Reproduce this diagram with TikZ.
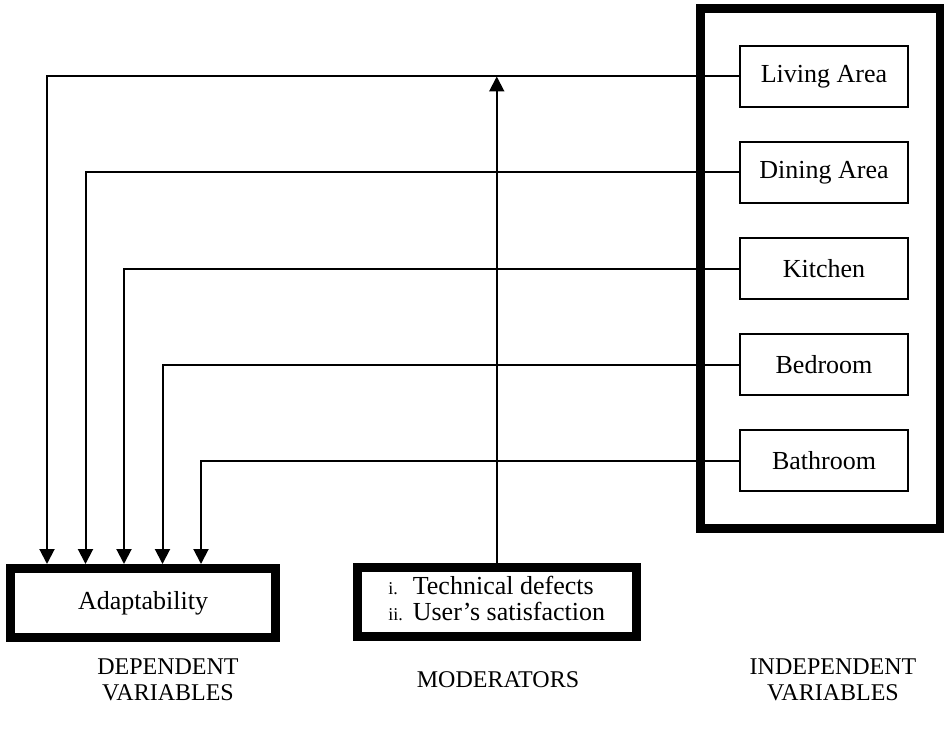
\documentclass[tikz,border=0pt]{standalone}
\usepackage{fontspec}
\setmainfont{Liberation Serif}
\usetikzlibrary{arrows.meta,positioning}
\tikzset{
  framebox/.style={draw, line width=9pt, inner sep=0pt},
  itembox/.style={draw, line width=2pt, minimum width=168pt, minimum height=61pt, inner sep=0pt, font=\fontsize{26}{30}\selectfont},
  link/.style={line width=2pt},
  arr/.style={link, -{Triangle[length=15pt,width=15pt]}},
  caption/.style={align=center, font=\fontsize{24}{26}\selectfont}
}

\begin{document}
\begin{tikzpicture}[x=1pt, y=1pt]
  \useasboundingbox (0,0) rectangle (944,-730);
  % the three frames
  \node[framebox, minimum width=239.5pt, minimum height=519pt] (indep) at (820.25,-268.5) {};
  \node[framebox, minimum width=265pt, minimum height=69pt, font=\fontsize{26}{30}\selectfont] (adapt) at (143,-603) {Adaptability};
  \node[framebox, minimum width=278.5pt, minimum height=69pt, font=\fontsize{26}{30}\selectfont] (moder) at (496.75,-601.5) {%
    \begin{tabular}{@{}l@{\hspace{10pt}}l@{}}
      {\fontsize{18}{20}\selectfont i.} & Technical defects\\[-4pt]
      {\fontsize{18}{20}\selectfont ii.} & User’s satisfaction
    \end{tabular}};
  % independent variables and their links
  \foreach \name/\txt [count=\i] in {living/Living Area, dining/Dining Area, kitchen/Kitchen, bedroom/Bedroom, bathroom/Bathroom}{
    \node[itembox] (\name) at (824,{-76.5-96*(\i-1)}) {\txt};
    \draw[arr] (\name.west) -| ([xshift={41pt+38.5pt*(\i-1)}]adapt.north west);
  }
  \draw[arr] (moder.north) -- (moder.north |- living.west);
  % captions
  \node[caption] (depcap) at (168,-680) {DEPENDENT\\VARIABLES};
  \node[caption] (modcap) at (498,-680) {MODERATORS};
  \node[caption] (indcap) at (833,-680) {INDEPENDENT\\VARIABLES};
\end{tikzpicture}
\end{document}
